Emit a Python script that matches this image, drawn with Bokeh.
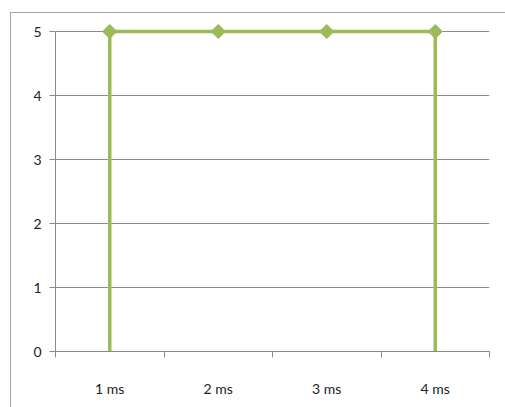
import math
from bokeh.plotting import figure
from bokeh.models import FixedTicker, Range1d
from bokeh.embed import file_html
from bokeh.resources import INLINE

# Series data
categories = ["1 ms", "2 ms", "3 ms", "4 ms"]
values = [5, 5, 5, 5]
y_ticks = [0, 1, 2, 3, 4, 5]

GREEN = "#9BBB59"
GRID = "#8a8a8a"
FONT = "Lato"

xs = list(range(1, len(categories) + 1))

# a little headroom above 5 so the markers on the top line are not cut off
p = figure(
    width=495, height=395,
    output_backend="svg", toolbar_location=None,
    x_range=Range1d(0.5, len(categories) + 0.5),
    y_range=Range1d(0, 5.25),
    min_border_left=44, min_border_right=17,
    min_border_top=2, min_border_bottom=57,
)
p.margin = (12, 0, 0, 10)
p.styles = {"border-left": "1px solid #a6a6a6", "border-top": "1px solid #a6a6a6",
            "box-sizing": "border-box"}
p.outline_line_color = None
p.background_fill_color = "white"
p.border_fill_color = "white"

# x axis: labels at category centres, tick marks between categories
p.xaxis.ticker = FixedTicker(ticks=xs, minor_ticks=[x - 0.5 for x in xs] + [xs[-1] + 0.5])
p.xaxis.major_label_overrides = {x: c for x, c in zip(xs, categories)}
p.xaxis.major_tick_out = 0
p.xaxis.major_tick_in = 0
p.xaxis.minor_tick_out = 6
p.xaxis.minor_tick_in = 0
p.xaxis.minor_tick_line_color = GRID
p.xaxis.axis_line_color = GRID
p.xaxis.major_label_standoff = 22
p.xgrid.grid_line_color = None

# y axis, its line stopping at the top tick
p.yaxis.ticker = FixedTicker(ticks=y_ticks, minor_ticks=[])
p.yaxis.bounds = (y_ticks[0], y_ticks[-1])
p.yaxis.major_tick_out = 6
p.yaxis.major_tick_in = 0
p.yaxis.major_tick_line_color = GRID
p.yaxis.axis_line_color = GRID
p.yaxis.major_label_standoff = 8
p.ygrid.grid_line_color = GRID
p.ygrid.grid_line_width = 1

for ax in (p.xaxis, p.yaxis):
    ax.major_label_text_font = FONT
    ax.major_label_text_font_size = "14px"
    ax.major_label_text_color = "#222222"

# series path: rises from 0 at the first category, drops back to 0 at the last
path_x = [xs[0]] + xs + [xs[-1]]
path_y = [0] + values + [0]
p.line(path_x, path_y, line_color=GREEN, line_width=3.5, line_join="miter")
# square rotated 45 degrees gives an even diamond
p.scatter(xs, values, marker="square", size=10, angle=math.pi / 4,
          fill_color=GREEN, line_color=GREEN)

open("out.html", "w").write(file_html(p, INLINE))
